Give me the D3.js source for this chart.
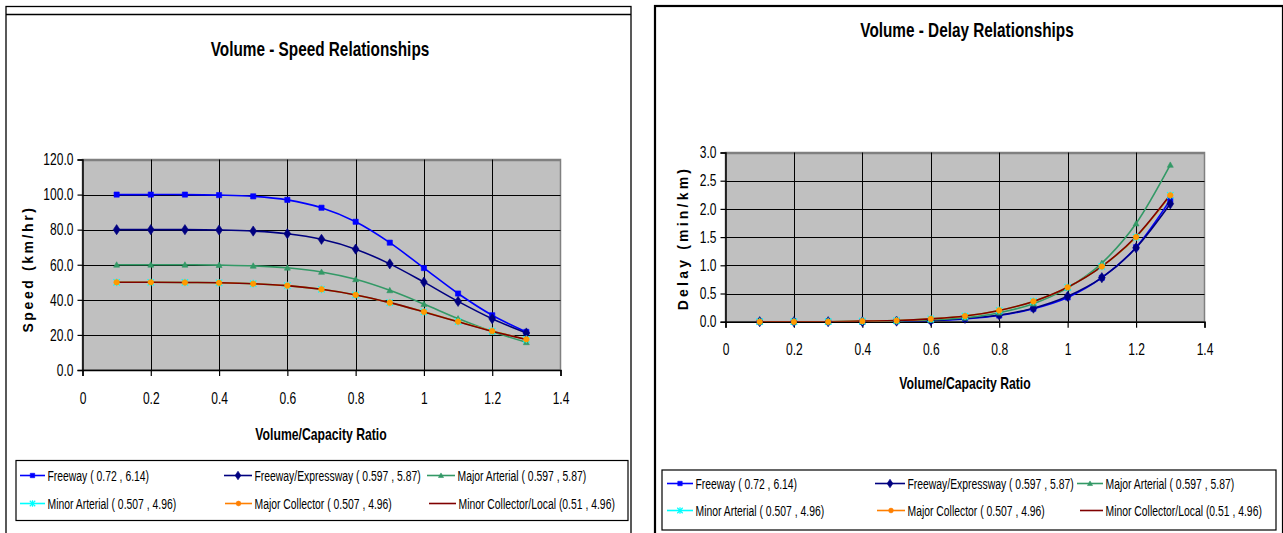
<!DOCTYPE html>
<html>
<head>
<meta charset="utf-8">
<script src="https://cdn.jsdelivr.net/npm/d3@7"></script>
<style>
  html, body { margin: 0; padding: 0; background: #fff; }
  svg { display: block; }
  text { font-family: "Liberation Sans", Arial, sans-serif; fill: #000; }
</style>
</head>
<body>
<svg id="chart" width="1283" height="533"></svg>
<script>
// Volume/capacity ratios shared by every series
const vcRatio = [0.1, 0.2, 0.3, 0.4, 0.5, 0.6, 0.7, 0.8, 0.9, 1.0, 1.1, 1.2, 1.3];

// Speed (km/hr) by facility type
const speedFreeway      = [100.0, 100.0, 100.0, 99.7, 99.0, 97.0, 92.5, 84.5, 72.6, 58.1, 43.6, 31.2, 21.7];
const speedFreewayExpwy = [80.0, 80.0, 80.0, 79.8, 79.2, 77.7, 74.5, 68.9, 60.5, 50.1, 39.1, 29.2, 21.1];
const speedMajorArt     = [60.0, 60.0, 60.0, 59.8, 59.4, 58.3, 55.9, 51.7, 45.4, 37.6, 29.3, 21.9, 15.8];
const speedMinorArt     = [50.0, 50.0, 49.9, 49.7, 49.2, 48.1, 46.0, 42.8, 38.4, 33.2, 27.6, 22.2, 17.5];
const speedMajorColl    = [50.0, 50.0, 49.9, 49.7, 49.2, 48.1, 46.0, 42.8, 38.4, 33.2, 27.6, 22.2, 17.5];
const speedMinorColl    = [50.0, 50.0, 49.9, 49.7, 49.2, 48.1, 46.0, 42.8, 38.4, 33.1, 27.5, 22.1, 17.4];

// Delay (min/km) by facility type
const delayFreeway      = [0.00, 0.00, 0.00, 0.00, 0.01, 0.02, 0.05, 0.11, 0.23, 0.43, 0.78, 1.32, 2.16];
const delayFreewayExpwy = [0.00, 0.00, 0.00, 0.00, 0.01, 0.02, 0.06, 0.12, 0.24, 0.45, 0.78, 1.31, 2.09];
const delayMajorArt     = [0.00, 0.00, 0.00, 0.00, 0.01, 0.03, 0.07, 0.16, 0.32, 0.60, 1.04, 1.74, 2.78];
const delayMinorArt     = [0.00, 0.00, 0.00, 0.01, 0.02, 0.05, 0.10, 0.20, 0.36, 0.61, 0.98, 1.50, 2.24];
const delayMajorColl    = [0.00, 0.00, 0.00, 0.01, 0.02, 0.05, 0.10, 0.20, 0.36, 0.61, 0.98, 1.50, 2.24];
const delayMinorColl    = [0.00, 0.00, 0.00, 0.01, 0.02, 0.05, 0.10, 0.20, 0.36, 0.61, 0.98, 1.51, 2.25];

// Series labels (facility type with BPR alpha, beta)
const seriesNames = [
  "Freeway ( 0.72 , 6.14)",
  "Freeway/Expressway ( 0.597 , 5.87)",
  "Major Arterial ( 0.597 , 5.87)",
  "Minor Arterial ( 0.507 , 4.96)",
  "Major Collector ( 0.507 , 4.96)",
  "Minor Collector/Local (0.51 , 4.96)"
];

// Axis ticks
const xTicks = [0, 0.2, 0.4, 0.6, 0.8, 1, 1.2, 1.4];
const speedTicks = [0, 20, 40, 60, 80, 100, 120];
const delayTicks = [0, 0.5, 1.0, 1.5, 2.0, 2.5, 3.0];

// Styling per series
const seriesColors  = ["#0000FF", "#000080", "#339966", "#00FFFF", "#FF9900", "#800000"];
const seriesMarkers = ["square", "diamond", "triangle", "star", "circle", "none"];
const legendLineColors = ["#0000FF", "#000080", "#339966", "#00FFFF", "#FF7F00", "#800000"];

const svg = d3.select("#chart");

function markerPath(kind, s) {
  switch (kind) {
    case "square":   return `M${-s},${-s}h${2*s}v${2*s}h${-2*s}Z`;
    case "diamond":  return `M0,${-s*1.5}L${s},0L0,${s*1.5}L${-s},0Z`;
    case "triangle": return `M0,${-s}L${s},${s*0.8}L${-s},${s*0.8}Z`;
    case "circle":   return d3.symbol(d3.symbolCircle, Math.PI * s * s)();
    case "star":     return `M${-s},${-s}L${s},${s}M${-s},${s}L${s},${-s}M0,${-s*1.2}L0,${s*1.2}`;
    default: return "";
  }
}

function drawMarker(g, kind, color, x, y, size) {
  if (kind === "none") return;
  const p = g.append("path")
    .attr("transform", `translate(${x},${y})`)
    .attr("d", markerPath(kind, size));
  if (kind === "star") {
    p.attr("fill", "none").attr("stroke", color).attr("stroke-width", 1.2);
  } else {
    p.attr("fill", color).attr("stroke", color).attr("stroke-width", 0.6);
  }
}

const markerSize = { square: 2.6, diamond: 3.4, triangle: 3.0, star: 3.2, circle: 2.8, none: 0 };

function drawPanel(cfg) {
  const g = svg.append("g");

  // frame
  g.append("rect")
    .attr("x", cfg.frame[0]).attr("y", cfg.frame[1])
    .attr("width", cfg.frame[2]).attr("height", cfg.frame[3])
    .attr("fill", "#fff").attr("stroke", "#000").attr("stroke-width", cfg.frameWidth);
  if (cfg.innerTop) {
    g.append("line")
      .attr("x1", cfg.frame[0]).attr("x2", cfg.frame[0] + cfg.frame[2])
      .attr("y1", cfg.innerTop).attr("y2", cfg.innerTop)
      .attr("stroke", "#000").attr("stroke-width", 1.3);
  }

  // title
  g.append("text")
    .attr("class", "title")
    .attr("x", cfg.titleX).attr("y", cfg.titleY)
    .attr("text-anchor", "middle")
    .attr("font-size", 21).attr("font-weight", "bold")
    .text(cfg.title);

  const x = d3.scaleLinear().domain([0, 1.4]).range([cfg.plot.left, cfg.plot.right]);
  const y = d3.scaleLinear().domain([0, cfg.yMax]).range([cfg.plot.bottom, cfg.plot.top]);

  // plot area
  g.append("rect")
    .attr("x", cfg.plot.left).attr("y", cfg.plot.top)
    .attr("width", cfg.plot.right - cfg.plot.left)
    .attr("height", cfg.plot.bottom - cfg.plot.top)
    .attr("fill", "#C0C0C0").attr("stroke", "#808080").attr("stroke-width", 1.5);

  // gridlines
  g.append("g").selectAll("line").data(cfg.yTicks.slice(1)).join("line")
    .attr("x1", cfg.plot.left).attr("x2", cfg.plot.right)
    .attr("y1", d => Math.round(y(d)) + 0.5).attr("y2", d => Math.round(y(d)) + 0.5)
    .attr("stroke", d => d === cfg.yMax ? "#808080" : "#000").attr("stroke-width", d => d === cfg.yMax ? 1.5 : 1);
  g.append("g").selectAll("line").data(xTicks.slice(1, -1)).join("line")
    .attr("x1", d => Math.round(x(d)) + 0.5).attr("x2", d => Math.round(x(d)) + 0.5)
    .attr("y1", cfg.plot.top).attr("y2", cfg.plot.bottom)
    .attr("stroke", "#000").attr("stroke-width", 1);

  // axes
  const yAxis = d3.axisLeft(y).tickValues(cfg.yTicks).tickFormat(d3.format(".1f")).tickSize(5).tickPadding(4);
  const gy = g.append("g").attr("transform", `translate(${cfg.plot.left},0)`).call(yAxis);
  const xAxis = d3.axisBottom(x).tickValues(xTicks).tickFormat(d => String(d)).tickSize(6).tickPadding(16);
  const gx = g.append("g").attr("transform", `translate(0,${cfg.plot.bottom})`).call(xAxis);
  [gx, gy].forEach(a => {
    a.selectAll(".domain").attr("stroke", "#000").attr("stroke-width", 1.5);
    a.selectAll(".tick line").attr("stroke", "#000").attr("stroke-width", 1.2);
    a.selectAll("text").attr("font-size", 16.5)
      .attr("class", "tick-label")
      .attr("font-family", '"Liberation Sans", Arial, sans-serif')
      .attr("fill", "#000");
  });

  // axis titles
  g.append("text")
    .attr("class", "xtitle")
    .attr("x", cfg.xTitle[0]).attr("y", cfg.xTitle[1])
    .attr("text-anchor", "middle").attr("font-size", 16.5).attr("font-weight", "bold")
    .text("Volume/Capacity Ratio");
  g.append("text")
    .attr("class", "ytitle")
    .attr("transform", `translate(${cfg.yTitle[0]},${cfg.yTitle[1]}) rotate(-90)`)
    .attr("text-anchor", "middle").attr("font-size", 14).attr("font-weight", "bold")
    .attr("letter-spacing", cfg.yTitleSpacing)
    .text(cfg.yTitleText);

  // series lines (smoothed), then markers on top
  const line = d3.line()
    .x((d, i) => x(vcRatio[i]))
    .y(d => y(d))
    .curve(d3.curveCatmullRom.alpha(0));
  const clipId = "clip" + cfg.id;
  g.append("clipPath").attr("id", clipId).append("rect")
    .attr("x", cfg.plot.left).attr("y", cfg.plot.top - 10)
    .attr("width", cfg.plot.right - cfg.plot.left).attr("height", cfg.plot.bottom - cfg.plot.top + 10);
  const lg = g.append("g").attr("clip-path", `url(#${clipId})`);
  cfg.series.forEach((vals, k) => {
    lg.append("path")
      .attr("d", line(vals))
      .attr("fill", "none")
      .attr("stroke", seriesColors[k])
      .attr("stroke-width", 1.6);
  });
  const mg = g.append("g");
  cfg.series.forEach((vals, k) => {
    vals.forEach((v, i) => {
      drawMarker(mg, seriesMarkers[k], seriesColors[k], x(vcRatio[i]), y(v), markerSize[seriesMarkers[k]]);
    });
  });

  // legend
  const L = cfg.legend;
  g.append("rect")
    .attr("x", L.box[0]).attr("y", L.box[1]).attr("width", L.box[2]).attr("height", L.box[3])
    .attr("fill", "#fff").attr("stroke", "#000").attr("stroke-width", 1.2);
  seriesNames.forEach((name, k) => {
    const row = Math.floor(k / 3), col = k % 3;
    const ly = L.rows[row];
    const [x0, x1] = L.lines[row][col];
    g.append("line")
      .attr("x1", x0).attr("x2", x1).attr("y1", ly).attr("y2", ly)
      .attr("stroke", legendLineColors[k]).attr("stroke-width", 1.6);
    drawMarker(g, seriesMarkers[k], legendLineColors[k], (x0 + x1) / 2, ly, markerSize[seriesMarkers[k]] * 0.85);
    g.append("text")
      .attr("class", "legend-label")
      .attr("x", x1 + 2.5).attr("y", ly).attr("dy", "0.36em")
      .attr("font-size", 15.5)
      .text(name);
  });
}

drawPanel({
  id: "speed",
  frame: [6, 6.5, 625, 540], frameWidth: 1.3, innerTop: 14.5,
  title: "Volume - Speed Relationships", titleX: 320, titleY: 56,
  plot: { left: 82.5, right: 560.5, top: 159.5, bottom: 370 },
  yMax: 120, yTicks: speedTicks,
  xTitle: [321, 440], yTitle: [33, 269], yTitleText: "Speed (km/hr)", yTitleSpacing: 2.6,
  series: [speedFreeway, speedFreewayExpwy, speedMajorArt, speedMinorArt, speedMajorColl, speedMinorColl],
  legend: {
    box: [16, 460.5, 612, 60],
    rows: [475.5, 503.5],
    lines: [[[20, 45], [224, 252], [427, 455]], [[20, 45], [225, 252], [429, 456]]]
  }
});

drawPanel({
  id: "delay",
  frame: [655, 6, 628, 540], frameWidth: 2.2,
  title: "Volume - Delay Relationships", titleX: 967, titleY: 37,
  plot: { left: 725.5, right: 1204.5, top: 152.5, bottom: 321.7 },
  yMax: 3.0, yTicks: delayTicks,
  xTitle: [965, 389], yTitle: [688, 238], yTitleText: "Delay (min/km)", yTitleSpacing: 3.2,
  series: [delayFreeway, delayFreewayExpwy, delayMajorArt, delayMinorArt, delayMajorColl, delayMinorColl],
  legend: {
    box: [662, 470, 614, 60],
    rows: [483.5, 510.5],
    lines: [[[667, 693], [875, 905], [1077, 1103]], [[667, 693], [877, 905], [1080, 1103]]]
  }
});

// Condense the sans-serif text horizontally to a narrow face:
// scale each label about its own anchor x so its box shrinks too
const narrowFactor = { "title": 0.73, "tick-label": 0.73, "xtitle": 0.74, "legend-label": 0.67 };
svg.selectAll("text").each(function () {
  const t = d3.select(this);
  const f = narrowFactor[t.attr("class")];
  if (!f) return;
  const ax = +(t.attr("x") || 0);
  t.attr("x", 0).attr("transform", `translate(${ax},0) scale(${f},1)`);
});
</script>
</body>
</html>
